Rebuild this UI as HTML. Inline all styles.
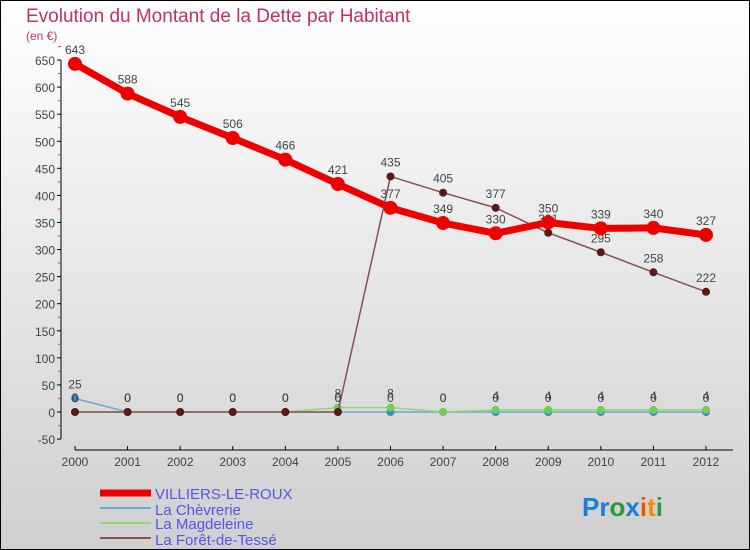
<!DOCTYPE html>
<html><head><meta charset="utf-8"><style>
body{margin:0}
svg{display:block;font-family:"Liberation Sans","DejaVu Sans",sans-serif}
</style></head><body>
<svg id="c" width="750" height="550">
<defs><linearGradient id="bg" x1="0" y1="0" x2="0" y2="1"><stop offset="0" stop-color="#ffffff"/><stop offset="1" stop-color="#cfcfcf"/></linearGradient></defs>
<rect x="0.5" y="0.5" width="749" height="549" fill="url(#bg)" stroke="#000"/>
<text x="26" y="22" font-size="19" fill="#c0306a">Evolution du Montant de la Dette par Habitant</text>
<text x="26" y="40" font-size="12" fill="#c0306a">(en €)</text>
<g id="axes"></g><g id="series"></g>
<g>
<line x1="100" y1="493" x2="151" y2="493" stroke="#ee0000" stroke-width="7"/>
<text x="155" y="499" font-size="15" fill="#5555ee">VILLIERS-LE-ROUX</text>
<line x1="100" y1="508" x2="151" y2="508" stroke="#6fa8d0" stroke-width="2"/>
<text x="155" y="515" font-size="15" fill="#5555ee">La Chèvrerie</text>
<line x1="100" y1="523" x2="151" y2="523" stroke="#8fd86f" stroke-width="2"/>
<text x="155" y="529" font-size="15" fill="#5555ee">La Magdeleine</text>
<line x1="100" y1="538" x2="151" y2="538" stroke="#8a5050" stroke-width="2"/>
<text x="155" y="545" font-size="15" fill="#5555ee">La Forêt-de-Tessé</text>
</g>
<text x="582" y="516" font-size="26" font-weight="bold"><tspan fill="#1a7fd6">Pr</tspan><tspan fill="#2a9a3a">o</tspan><tspan fill="#1a7fd6">x</tspan><tspan fill="#ee5500">i</tspan><tspan fill="#ff8800">t</tspan><tspan fill="#2a9a3a">i</tspan></text>
</svg>
<script>
const years=[2000,2001,2002,2003,2004,2005,2006,2007,2008,2009,2010,2011,2012];
const yTicks=[-50,0,50,100,150,200,250,300,350,400,450,500,550,600,650];
const villiers=[643,588,545,506,466,421,377,349,330,350,339,340,327];
const chevrerie=[25,0,0,0,0,0,0,0,0,0,0,0,0];
const magdeleine=[0,0,0,0,0,8,8,0,4,4,4,4,4];
const foret=[0,0,0,0,0,0,435,405,377,331,295,258,222];
const NS="http://www.w3.org/2000/svg";
const X=i=>75+i*(706-75)/(years.length-1);
const Y=v=>412-v*0.5415;
function mk(t,a,p){const e=document.createElementNS(NS,t);for(const k in a)e.setAttribute(k,a[k]);p.appendChild(e);return e;}
const ax=document.getElementById('axes'),sg=document.getElementById('series');
let l=mk('line',{x1:61,y1:Y(-50),x2:61,y2:Y(650),stroke:'#000'},ax);

yTicks.forEach(v=>{mk('line',{x1:57,y1:Y(v),x2:61,y2:Y(v),stroke:'#000'},ax);
mk('line',{x1:58,y1:Y(v+25),x2:61,y2:Y(v+25),stroke:'#e33'},ax);
const t=mk('text',{x:55,y:Y(v)+5,'text-anchor':'end','font-size':12,fill:'#444'},ax);t.textContent=v;
});
l=mk('line',{x1:75,y1:450,x2:733,y2:450,stroke:'#000'},ax);

years.forEach((y,i)=>{mk('line',{x1:X(i),y1:446,x2:X(i),y2:450,stroke:'#000'},ax);
const t=mk('text',{x:X(i),y:466,'text-anchor':'middle','font-size':12,fill:'#444'},ax);t.textContent=y;
});
function series(d,name,color,w,r,mcol,lab){
const g=mk('g',{},sg);
mk('polyline',{points:d.map((v,i)=>X(i)+','+Y(v)).join(' '),fill:'none',stroke:color,'stroke-width':w,'stroke-linejoin':'round'},g);
d.forEach((v,i)=>{const c=mk('circle',{cx:X(i),cy:Y(v),r:r,fill:mcol},g);

if(lab){const t=mk('text',{x:X(i),y:Y(v)-10,'text-anchor':'middle','font-size':12,fill:'#444'},g);t.textContent=v;}});}
series(chevrerie,'la-chevrerie','#6fa8d0',1.5,4,'#3a8ad0',true);
series(magdeleine,'la-magdeleine','#8fd86f',1.5,4,'#6fd04f',true);
series(foret,'la-foret-de-tesse','#8a5050',1.5,4,'#5a1818',true);
series(villiers,'villiers-le-roux','#ee0000',7,7,'#ee0000',true);
</script>
</body></html>
